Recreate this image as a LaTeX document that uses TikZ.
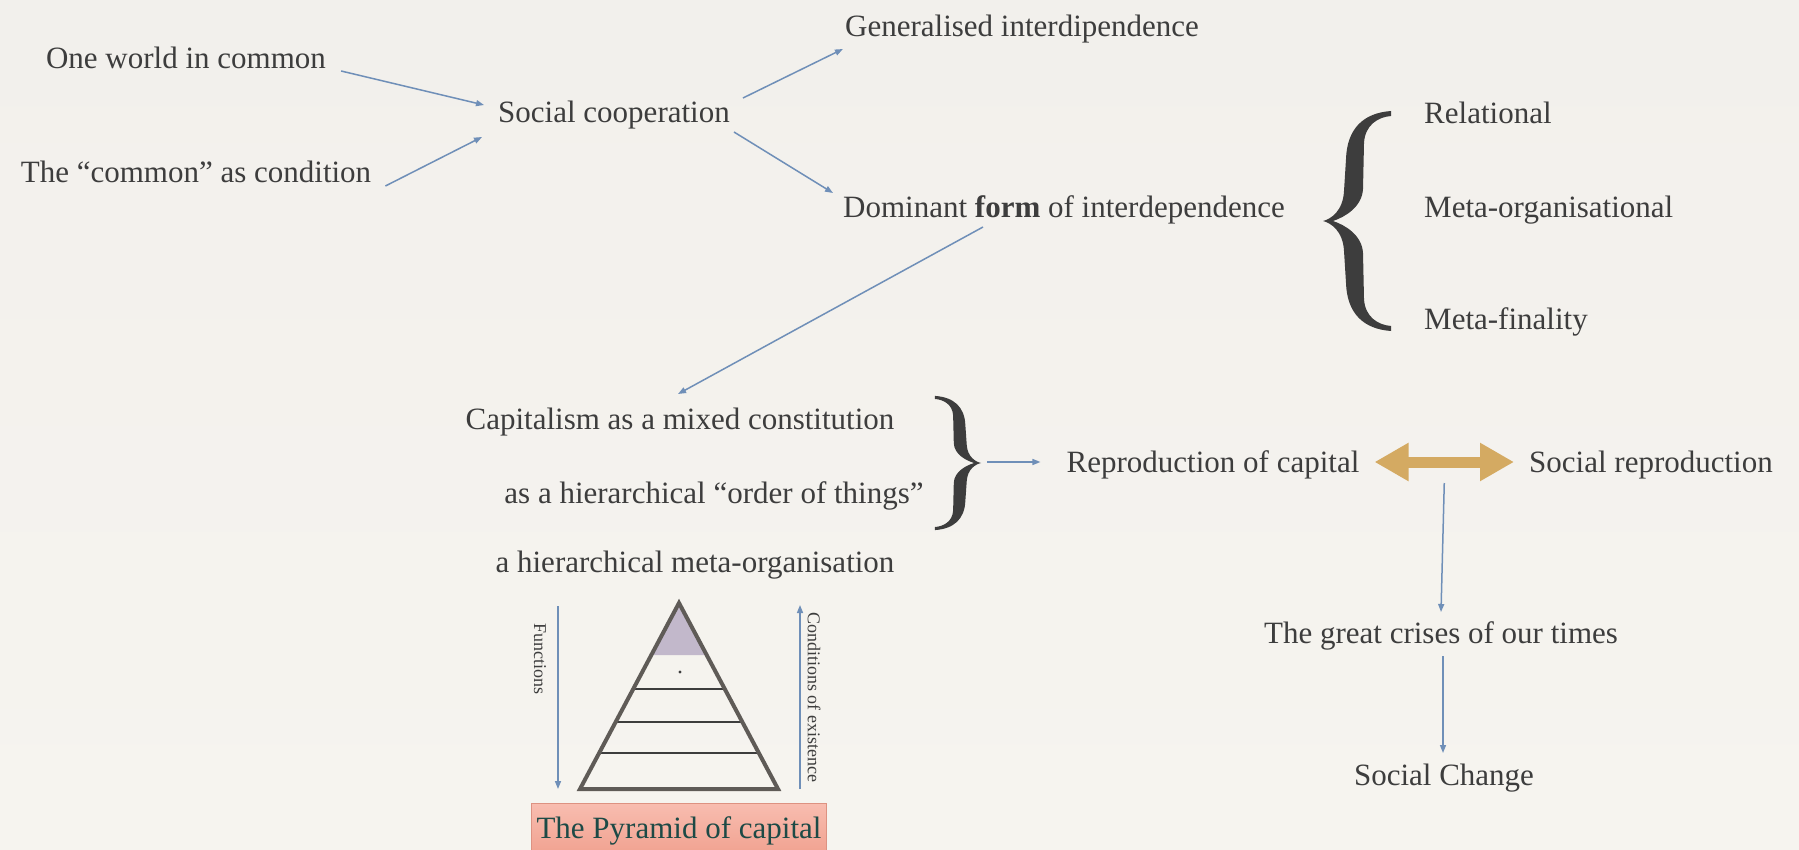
\documentclass[tikz,border=0pt]{standalone}
\usepackage{fontspec}
\setmainfont{Liberation Serif}
\usetikzlibrary{positioning, arrows.meta, calc}
\definecolor{bgtop}{HTML}{F2F0EC}
\definecolor{bgmid}{HTML}{E3E0DB}
\definecolor{bgbot}{HTML}{F6F4EF}
\definecolor{ink}{HTML}{3D3D3D}
\definecolor{linkblue}{HTML}{6F8FB8}
\definecolor{goldc}{HTML}{D4AA62}
\definecolor{lavender}{HTML}{C2B8CB}
\definecolor{pyrgray}{HTML}{5F5B57}
\definecolor{salmontop}{HTML}{F8BDB0}
\definecolor{salmonbot}{HTML}{F0A08E}
\definecolor{salmonedge}{HTML}{DD9282}
\definecolor{tealtext}{HTML}{1D4A46}

\begin{document}
\begin{tikzpicture} [x = 1pt, y = -1pt,
			every node/.style = {inner sep = 0pt, text = ink},
			txt/.style = {font = \fontsize{31}{36}\selectfont, anchor = base},
			small/.style = {font = \fontsize{18}{21}\selectfont, rotate = -90},
			link/.style = {draw = linkblue, line width = 1.5pt,
				-{Triangle[length = 8pt, width = 6pt]}
			},
			gold/.style = {draw = goldc, line width = 11pt,
				{Triangle[length = 34pt, width = 36pt]}-{Triangle[length = 34pt, width = 36pt]}
			},
			pyr/.style = {draw = pyrgray, line width = 4pt, line join = miter},
			tier/.style = {draw = ink, line width = 2.5pt},
			labelbox/.style = {txt, text = tealtext, draw = salmonedge,
				top color = salmontop, bottom color = salmonbot,
				minimum width = 295pt, inner ysep = 13pt
			},
			curly/.pic = {
				\fill [ink] (68,-110) .. controls (40,-108) and (24,-92) .. (23,-62)
				-- (21,-30) .. controls (20,-10) and (8,-2) .. (0,0)
				.. controls (8,2) and (20,10) .. (21,30) -- (23,62)
				.. controls (24,92) and (40,108) .. (68,110) -- (68,105)
				.. controls (55,104) and (42,96) .. (41,78) -- (40,32)
				.. controls (39,14) and (22,4) .. (10,0)
				.. controls (22,-4) and (39,-14) .. (40,-32) -- (41,-78)
				.. controls (42,-96) and (55,-104) .. (68,-105) -- cycle;
			}
			]
			% Background
			\useasboundingbox (0,0) rectangle (1799,850);
			\clip (0,0) rectangle (1799,850);
			\shade [top color = bgtop, middle color = bgmid, bottom color = bgbot] (0,0) rectangle (1799,850);
			% Nodes
			\node (world) [txt] at (186,69) {One world in common};
			\node (common) [txt] at (196,183) {The “common” as condition};
			\node (coop) [txt] at (614,123) {Social cooperation};
			\node (general) [txt] at (1022,37) {Generalised interdipendence};
			\node (dominant) [txt] at (1064,218) {Dominant \textbf{form} of interdependence};
			\node (relational) [txt, anchor = base west] at (1424,124) {Relational};
			\node (metaorg) [txt, anchor = base west] at (1424,218) {Meta-organisational};
			\node (metafin) [txt, anchor = base west] at (1424,330) {Meta-finality};
			\node (capmix) [txt] at (680,429) {Capitalism as a mixed constitution};
			\node (order) [txt] at (714,503) {as a hierarchical “order of things”};
			\node (hiermeta) [txt] at (695,572) {a hierarchical meta-organisation};
			\node (repcap) [txt] at (1213,472) {Reproduction of capital};
			\node (socrep) [txt] at (1651,472) {Social reproduction};
			\node (crises) [txt] at (1441,643) {The great crises of our times};
			\node (change) [txt] at (1444,785) {Social Change};
			% Braces
			\pic at (1323,221) {curly};
			\coordinate (rtip) at (981,463);
			\pic [xscale = -0.68, yscale = 0.61] at (rtip) {curly};
			% Pyramid
			\coordinate (apex) at (679,603);
			\coordinate (bl) at (580,789);
			\coordinate (br) at (778,789);
			\fill [lavender] (apex) -- ($(apex)!0.2796!(bl)$) -- ($(apex)!0.2796!(br)$) -- cycle;
			\foreach \f in {0.462, 0.640, 0.806}
			\draw [tier] ($(apex)!\f!(bl)$) -- ($(apex)!\f!(br)$);
			\draw [pyr] (apex) -- (bl) -- (br) -- cycle;
			\fill [ink] (680,672) circle (1.6);
			\node (pyrlabel) [labelbox] at (679,838) {The Pyramid of capital};
			\coordinate (fntop) at (558,606);
			\coordinate (fnbot) at (558,789);
			\coordinate (cdbot) at (800,789);
			\coordinate (cdtop) at (800,605);
			\node (functions) [small] at (540,659) {Functions};
			\node (conditions) [small] at (814,697) {Conditions of existence};
			% Connections
			\path
			($(world.base east)+(15,2)$) edge [link] ($(coop.base west)+(-14,-18)$)
			($(common.base east)+(14,3)$) edge [link] ($(coop.base west)+(-16,14)$)
			($(coop.base east)+(13,-25)$) edge [link] ($(general.base west)+(-2,12)$)
			($(coop.base east)+(4,9)$) edge [link] ($(dominant.base west)+(-10,-25)$)
			($(dominant.base)+(-81,9)$) edge [link] ($(capmix.base)+(-2,-35)$)
			($(rtip)+(6,-1)$) edge [link] ($(repcap.base west)+(-26,-10)$)
			(fntop) edge [link] (fnbot)
			(cdbot) edge [link] (cdtop);
			\draw [gold] ($(repcap.base east)+(15,-10)$) -- ($(socrep.base west)+(-15,-10)$);
			\coordinate (dbl) at ($($(repcap.base east)!0.5!(socrep.base west)$)+(0,11)$);
			\path
			(dbl) edge [link] ($(crises.base)+(0,-31)$)
			($(crises.base)+(2,13)$) edge [link] ($(change.base)+(-1,-32)$);
		\end{tikzpicture}
\end{document}
